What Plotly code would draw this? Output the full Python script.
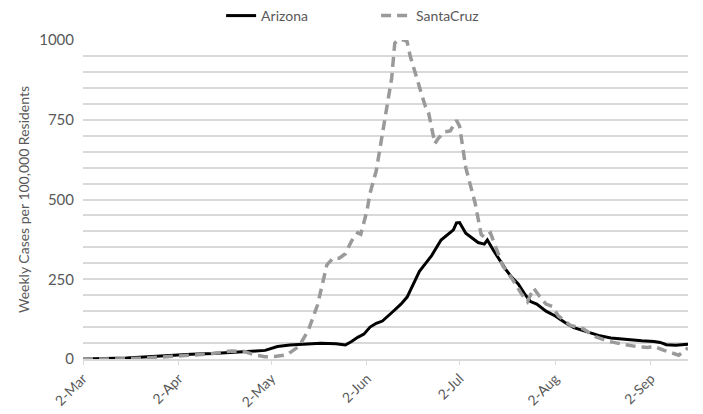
import plotly.graph_objects as go

# Weekly COVID-19 cases per 100,000 residents, 2020
az_dates = [
    "2020-03-02", "2020-03-09", "2020-03-16", "2020-03-23", "2020-03-30",
    "2020-04-06", "2020-04-13", "2020-04-20", "2020-04-27", "2020-04-30",
    "2020-05-02", "2020-05-04", "2020-05-08", "2020-05-13", "2020-05-18",
    "2020-05-23", "2020-05-26", "2020-05-28", "2020-05-30", "2020-06-01",
    "2020-06-03", "2020-06-05", "2020-06-07", "2020-06-10", "2020-06-13",
    "2020-06-15", "2020-06-17", "2020-06-19", "2020-06-21", "2020-06-23",
    "2020-06-26", "2020-06-28", "2020-06-30", "2020-07-01", "2020-07-02",
    "2020-07-04", "2020-07-06", "2020-07-08", "2020-07-10", "2020-07-11",
    "2020-07-13", "2020-07-15", "2020-07-17", "2020-07-19", "2020-07-21",
    "2020-07-23", "2020-07-25", "2020-07-27", "2020-07-30", "2020-08-02",
    "2020-08-05", "2020-08-08", "2020-08-12", "2020-08-16", "2020-08-20",
    "2020-08-25", "2020-08-30", "2020-09-03", "2020-09-05", "2020-09-07",
    "2020-09-10", "2020-09-14",
]
az_values = [
    0, 1, 3, 7, 12,
    15, 17, 20, 25, 27,
    33, 39, 44, 47, 49,
    48, 44, 55, 68, 78,
    100, 112, 119, 145, 172,
    194, 235, 275, 300, 325,
    373, 390, 405, 427, 428,
    394, 380, 365, 360, 373,
    340, 310, 280, 255, 235,
    205, 180, 172, 150, 135,
    115, 98, 85, 74, 66,
    61, 57, 55, 52, 45,
    43, 46,
]

sc_dates = [
    "2020-03-02", "2020-03-12", "2020-03-22", "2020-04-01", "2020-04-11",
    "2020-04-19", "2020-04-23", "2020-04-27", "2020-04-30", "2020-05-03",
    "2020-05-07", "2020-05-11", "2020-05-14", "2020-05-17", "2020-05-19",
    "2020-05-20", "2020-05-22", "2020-05-24", "2020-05-26", "2020-05-28",
    "2020-05-30", "2020-05-31", "2020-06-02", "2020-06-03", "2020-06-05",
    "2020-06-07", "2020-06-08", "2020-06-10", "2020-06-11", "2020-06-12",
    "2020-06-14", "2020-06-15", "2020-06-16", "2020-06-18", "2020-06-20",
    "2020-06-21", "2020-06-22", "2020-06-24", "2020-06-25", "2020-06-27",
    "2020-06-29", "2020-07-01", "2020-07-02", "2020-07-04", "2020-07-05",
    "2020-07-07", "2020-07-09", "2020-07-10", "2020-07-12", "2020-07-14",
    "2020-07-16", "2020-07-19", "2020-07-22", "2020-07-24", "2020-07-26",
    "2020-07-28", "2020-07-30", "2020-08-01", "2020-08-03", "2020-08-07",
    "2020-08-11", "2020-08-15", "2020-08-19", "2020-08-24", "2020-08-29",
    "2020-09-01", "2020-09-03", "2020-09-06", "2020-09-09", "2020-09-11",
    "2020-09-14",
]
sc_values = [
    0, 0, 3, 10, 15,
    25, 24, 12, 7, 8,
    13, 40, 90, 170, 260,
    295, 316, 316, 330, 370,
    396, 391, 465, 520, 590,
    700, 760, 880, 990, 1000,
    1000, 995, 950, 880, 820,
    790, 770, 675, 690, 712,
    715, 748, 730, 600, 560,
    490, 390, 382, 395, 340,
    292, 252, 205, 180, 222,
    195, 172, 165, 135, 105,
    95, 70, 56, 46, 38,
    36, 40, 28, 18, 12,
    35,
]

month_ticks = ["2020-03-02", "2020-04-02", "2020-05-02", "2020-06-02",
               "2020-07-02", "2020-08-02", "2020-09-02"]
month_labels = ["2-Mar", "2-Apr", "2-May", "2-Jun", "2-Jul", "2-Aug", "2-Sep"]
y_ticks = [0, 250, 500, 750, 1000]

FONT = "Lato"
TEXT = "#595959"
GRID = "#d9d9d9"

fig = go.Figure()
fig.add_trace(go.Scatter(
    x=az_dates, y=az_values, name="Arizona", mode="lines",
    line=dict(color="#000000", width=3),
))
fig.add_trace(go.Scatter(
    x=sc_dates, y=sc_values, name="SantaCruz", mode="lines",
    line=dict(color="#9a9a9a", width=3.5, dash="10px,6px"),
))

fig.update_layout(
    width=703, height=414,
    margin=dict(l=83, r=15, t=40, b=55, autoexpand=False),
    paper_bgcolor="white", plot_bgcolor="white",
    font=dict(family=FONT, size=14, color=TEXT),
    showlegend=True,
    legend=dict(
        orientation="h", xref="container", yref="container",
        x=0.535, xanchor="center", y=1.0, yanchor="top",
        font=dict(family=FONT, size=14, color=TEXT),
        entrywidth=110, entrywidthmode="pixels",
        bgcolor="rgba(0,0,0,0)",
    ),
    xaxis=dict(
        type="date",
        range=["2020-03-02", "2020-09-14"],
        tickmode="array", tickvals=month_ticks, ticktext=month_labels,
        tickangle=-45, tickfont=dict(family=FONT, size=14, color=TEXT),
        ticks="outside", ticklen=4, tickcolor=GRID, tickwidth=1,
        showgrid=False, showline=True, linecolor=GRID, linewidth=2,
        zeroline=False,
    ),
    yaxis=dict(
        range=[0, 1000],
        tickmode="array", tickvals=y_ticks,
        tickfont=dict(family=FONT, size=15, color=TEXT),
        ticklabelstandoff=8,
        showgrid=True, gridcolor=GRID, gridwidth=1.5,
        minor=dict(dtick=50, tick0=0, showgrid=True, gridcolor=GRID, gridwidth=1.5),
        zeroline=False, showline=False, ticks="",
        title=dict(text="Weekly Cases per 100,000 Residents",
                   font=dict(family=FONT, size=14, color=TEXT), standoff=6),
    ),
)

fig.write_html("out.html")
